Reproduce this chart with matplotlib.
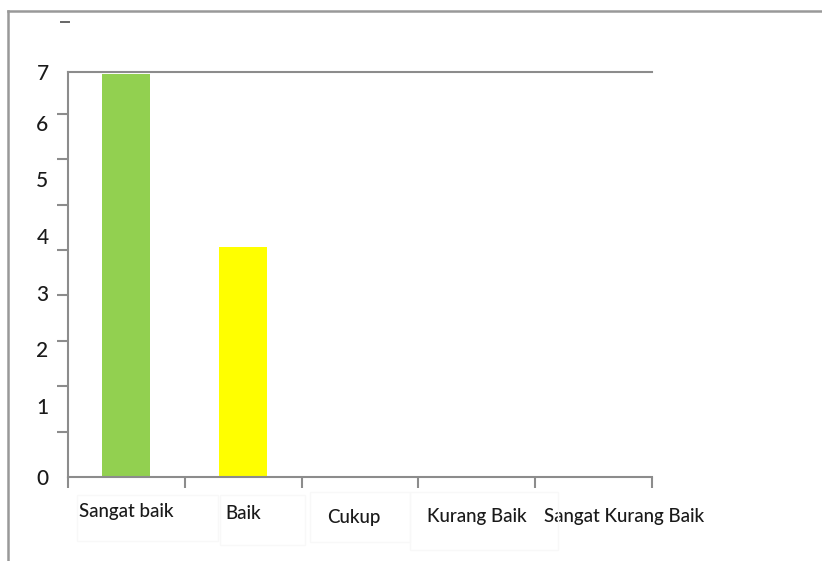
"""Diagram batang: penilaian Sangat baik .. Sangat Kurang Baik"""

import matplotlib.pyplot as plt
from matplotlib.patches import Rectangle
import matplotlib.transforms as mtransforms
import numpy as np

# data
kategori = ['Sangat baik', 'Baik', 'Cukup', 'Kurang Baik', 'Sangat Kurang Baik']
nilai = [7, 4, 0, 0, 0]
warna = ['#92D050', '#FFFF00', '#92D050', '#92D050', '#92D050']
label_y = ['0', '1', '2', '3', '4', '5', '6', '7']

# posisi label sumbu-y (tidak sejajar dengan garis tick, seperti aslinya)
pos_label_y = [0.0, 1.24, 2.23, 3.20, 4.18, 5.17, 6.14, 7.03]
# posisi tanda tick sumbu-y
pos_tick_y = np.arange(9) * 0.788
# geser label kategori (satuan kategori) dan tinggi (fraksi sumbu)
geser_x = [0.0, 0.0, -0.05, 0.0, 0.26]
tinggi_label = [-0.085, -0.089, -0.101, -0.098, -0.098]

abu = '#8c8c8c'
plt.rcParams['font.family'] = ['Lato', 'DejaVu Sans']

fig = plt.figure(figsize=(8.22, 5.61), dpi=100)
ax = fig.add_axes([68 / 822, 84 / 561, 584 / 822, 405 / 561])

x = np.arange(len(kategori))
ax.bar(x, nilai, width=0.41, color=warna, zorder=2)

ax.set_xlim(-0.5, len(kategori) - 0.5)
ax.set_ylim(0, 7)

ax.spines['right'].set_visible(False)
for s in ['left', 'bottom', 'top']:
    ax.spines[s].set_color(abu)
    ax.spines[s].set_linewidth(1.5)

# sumbu y: label tanpa garis, garis tick sebagai minor
ax.set_yticks(pos_label_y)
ax.set_yticklabels(label_y, fontsize=15, color='#1a1a1a', fontweight='medium')
ax.tick_params(axis='y', which='major', length=0, pad=14)
ax.set_yticks(pos_tick_y, minor=True)
ax.tick_params(axis='y', which='minor', length=8, width=1.5, color=abu)

# sumbu x: tick di batas kategori, label ditulis manual
ax.set_xticks([])
ax.set_xticks(np.arange(len(kategori) + 1) - 0.5, minor=True)
ax.tick_params(axis='x', which='minor', length=8, width=1.5, color=abu)

trans = mtransforms.blended_transform_factory(ax.transData, ax.transAxes)
for i, k in enumerate(kategori):
    ax.text(x[i] + geser_x[i], tinggi_label[i], k, transform=trans,
            ha='center', va='center', fontsize=13.5, color='#1a1a1a',
            fontweight='medium')

# kotak label yang samar
kotak = [(77, 495, 141, 46), (220, 495, 85, 50), (310, 492, 100, 50), (410, 492, 148, 58)]
for (kx, ky, kw, kh) in kotak:
    fig.patches.append(Rectangle((kx / 822, 1 - (ky + kh) / 561), kw / 822, kh / 561,
                                 transform=fig.transFigure, fill=False,
                                 edgecolor='#f8f8f8', linewidth=1))

# tanda kecil di atas sumbu
fig.add_artist(plt.Line2D([61 / 822, 69 / 822], [1 - 22 / 561, 1 - 22 / 561],
                          transform=fig.transFigure, color='#666666', linewidth=1.4))

# bingkai luar (atas dan kiri)
fig.add_artist(plt.Line2D([8 / 822, 1.0], [1 - 11 / 561, 1 - 11 / 561],
                          transform=fig.transFigure, color='#999999', linewidth=1.8))
fig.add_artist(plt.Line2D([8 / 822, 8 / 822], [0.0, 1 - 11 / 561],
                          transform=fig.transFigure, color='#999999', linewidth=1.8))

fig.savefig('out.png', dpi=100)
